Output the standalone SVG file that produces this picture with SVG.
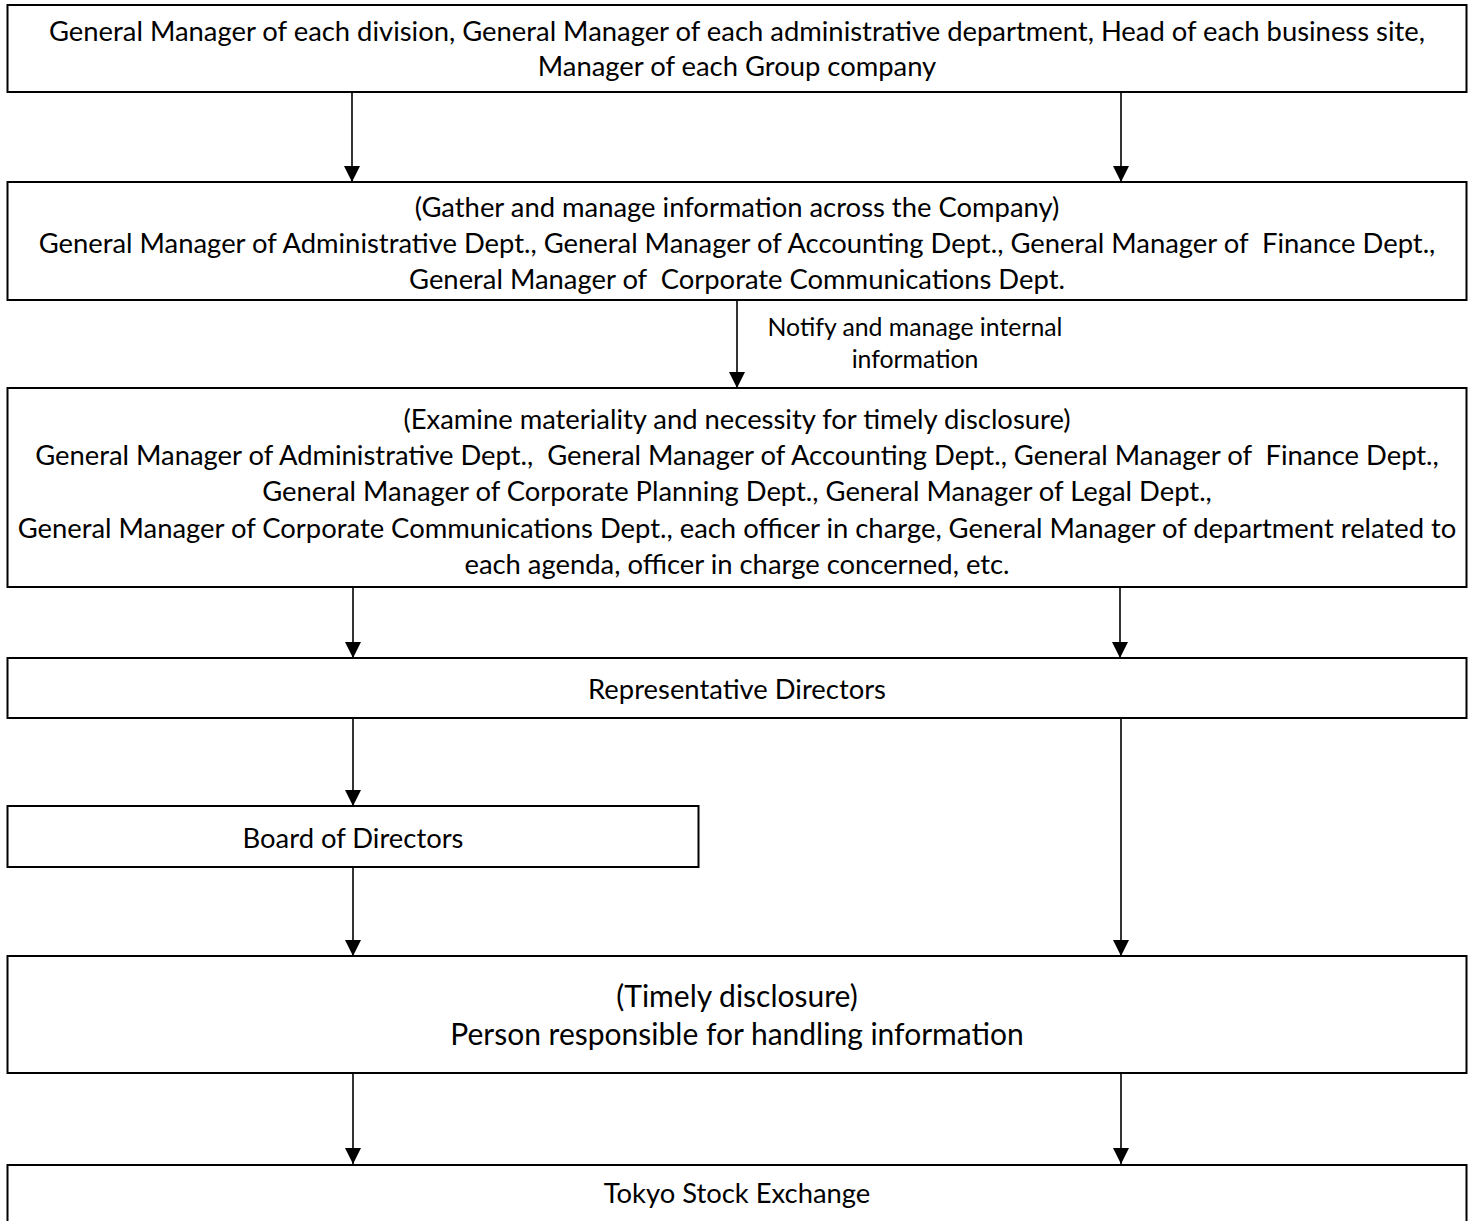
<svg xmlns="http://www.w3.org/2000/svg" width="1474" height="1221" viewBox="0 0 1474 1221">
<style>
.box{fill:#fff;stroke:#000;stroke-width:2}
.t{font-family:Lato,"Liberation Sans",sans-serif;font-size:27.4px;fill:#000;text-anchor:middle;white-space:pre}
.s{font-size:24.8px}
.b{font-size:30px}
.c{stroke:#000;stroke-width:1.6;fill:none;marker-end:url(#ah)}
</style>
<defs>
<marker id="ah" markerUnits="userSpaceOnUse" markerWidth="16" markerHeight="16" refX="16" refY="8" orient="auto">
<path d="M0,0 L16,8 L0,16 z" fill="#000"/>
</marker>
</defs>
<rect width="1474" height="1221" fill="#fff"/>
<g id="connectors">
<line class="c" x1="352" y1="92" x2="352" y2="182"/>
<line class="c" x1="1121" y1="92" x2="1121" y2="182"/>
<line class="c" x1="737" y1="300" x2="737" y2="388"/>
<line class="c" x1="353" y1="587" x2="353" y2="658"/>
<line class="c" x1="1120" y1="587" x2="1120" y2="658"/>
<line class="c" x1="353" y1="718" x2="353" y2="806"/>
<line class="c" x1="1121" y1="718" x2="1121" y2="956"/>
<line class="c" x1="353" y1="867" x2="353" y2="956"/>
<line class="c" x1="353" y1="1073" x2="353" y2="1164"/>
<line class="c" x1="1121" y1="1073" x2="1121" y2="1164"/>
<text class="t s" x="915" y="336">Notify and manage internal</text>
<text class="t s" x="915" y="368">information</text>
</g>
<g id="n1">
<rect class="box" x="7.5" y="5" width="1459" height="87"/>
<text class="t" x="737" y="41">General Manager of each division, General Manager of each administrative department, Head of each business site,</text>
<text class="t" x="737" y="76">Manager of each Group company</text>
</g>
<g id="n2">
<rect class="box" x="7.5" y="182" width="1459" height="118"/>
<text class="t" x="737" y="217">(Gather and manage information across the Company)</text>
<text class="t" x="737" y="253">General Manager of Administrative Dept., General Manager of Accounting Dept., General Manager of  Finance Dept.,</text>
<text class="t" x="737" y="289">General Manager of  Corporate Communications Dept.</text>
</g>
<g id="n3">
<rect class="box" x="7.5" y="388" width="1459" height="199"/>
<text class="t" x="737" y="429">(Examine materiality and necessity for timely disclosure)</text>
<text class="t" x="737" y="465">General Manager of Administrative Dept.,  General Manager of Accounting Dept., General Manager of  Finance Dept.,</text>
<text class="t" x="737" y="501">General Manager of Corporate Planning Dept., General Manager of Legal Dept.,</text>
<text class="t" x="737" y="538">General Manager of Corporate Communications Dept., each officer in charge, General Manager of department related to</text>
<text class="t" x="737" y="574">each agenda, officer in charge concerned, etc.</text>
</g>
<g id="n4">
<rect class="box" x="7.5" y="658" width="1459" height="60"/>
<text class="t" x="737" y="699">Representative Directors</text>
</g>
<g id="n5">
<rect class="box" x="7.5" y="806" width="691" height="61"/>
<text class="t" x="353" y="848">Board of Directors</text>
</g>
<g id="n6">
<rect class="box" x="7.5" y="956" width="1459" height="117"/>
<text class="t b" x="737" y="1007">(Timely disclosure)</text>
<text class="t b" x="737" y="1045">Person responsible for handling information</text>
</g>
<g id="n7">
<rect class="box" x="7.5" y="1165" width="1459" height="70"/>
<text class="t" x="737" y="1203">Tokyo Stock Exchange</text>
</g>
</svg>
